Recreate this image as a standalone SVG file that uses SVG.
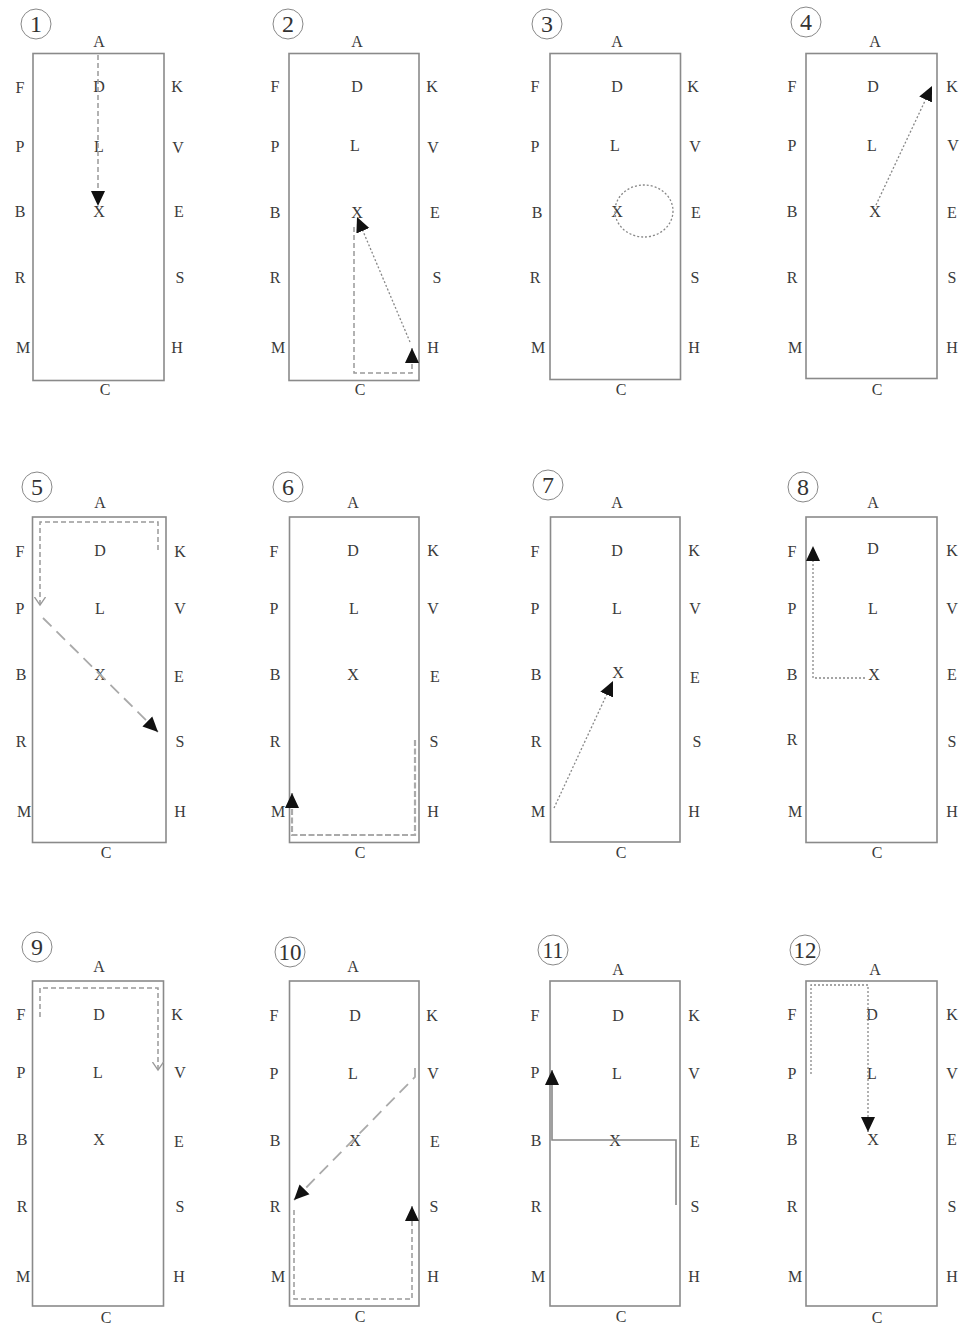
<svg xmlns="http://www.w3.org/2000/svg" width="961" height="1328" viewBox="0 0 961 1328">
<style>
.bg{fill:#fff}
.arena{fill:none;stroke:#8a8a8a;stroke-width:1.6}
.lbl{font-family:"Liberation Serif",serif;font-size:16px;fill:#3a3a3a;text-anchor:middle}
.num{font-family:"Liberation Serif",serif;font-size:24px;fill:#333;text-anchor:middle}
.badge{fill:none;stroke:#888;stroke-width:1}
.dot{fill:none;stroke:#888;stroke-width:1.3;stroke-dasharray:2 2}
.dash{fill:none;stroke:#999;stroke-width:1.5;stroke-dasharray:5 3}
.long{fill:none;stroke:#aaa;stroke-width:1.8;stroke-dasharray:12 7}
.thick{fill:none;stroke:#aaa;stroke-width:2.2;stroke-dasharray:6 2.5}
.solid{fill:none;stroke:#888;stroke-width:1.6}
</style>
<defs>
<marker id="tri" markerUnits="userSpaceOnUse" markerWidth="16" markerHeight="15" refX="15" refY="7" orient="auto" viewBox="0 0 16 14">
<path d="M0,0 L15,7 L0,14 z" fill="#111"/>
</marker>
<marker id="chev" markerUnits="userSpaceOnUse" markerWidth="10" markerHeight="12" refX="8" refY="6" orient="auto" viewBox="0 0 10 12">
<path d="M0,0.5 L8,6 L0,11.5" fill="none" stroke="#999" stroke-width="1.3"/>
</marker>
</defs>
<rect class="bg" x="0" y="0" width="961" height="1328"/>

<g id="panel-1">
<circle class="badge" cx="36" cy="24" r="15"/><text class="num" x="36" y="32">1</text>
<rect class="arena" x="33" y="53.5" width="131" height="327"/>
<text class="lbl" x="99" y="47">A</text><text class="lbl" x="20" y="93">F</text><text class="lbl" x="99" y="92">D</text><text class="lbl" x="177" y="92">K</text>
<text class="lbl" x="20" y="152">P</text><text class="lbl" x="99" y="152">L</text><text class="lbl" x="178" y="153">V</text>
<text class="lbl" x="20" y="217">B</text><text class="lbl" x="99" y="217">X</text><text class="lbl" x="179" y="217">E</text>
<text class="lbl" x="20" y="283">R</text><text class="lbl" x="180" y="283">S</text>
<text class="lbl" x="23" y="353">M</text><text class="lbl" x="177" y="353">H</text><text class="lbl" x="105" y="395">C</text>
</g>

<g id="panel-2">
<circle class="badge" cx="288" cy="24" r="15"/><text class="num" x="288" y="32">2</text>
<rect class="arena" x="289" y="53.5" width="130" height="327"/>
<text class="lbl" x="357" y="47">A</text><text class="lbl" x="275" y="92">F</text><text class="lbl" x="357" y="92">D</text><text class="lbl" x="432" y="92">K</text>
<text class="lbl" x="275" y="152">P</text><text class="lbl" x="355" y="151">L</text><text class="lbl" x="433" y="153">V</text>
<text class="lbl" x="275" y="218">B</text><text class="lbl" x="357" y="218">X</text><text class="lbl" x="435" y="218">E</text>
<text class="lbl" x="275" y="283">R</text><text class="lbl" x="437" y="283">S</text>
<text class="lbl" x="278" y="353">M</text><text class="lbl" x="433" y="353">H</text><text class="lbl" x="360" y="395">C</text>
</g>

<g id="panel-3">
<circle class="badge" cx="547" cy="24" r="15"/><text class="num" x="547" y="32">3</text>
<rect class="arena" x="550" y="53.5" width="130.5" height="326"/>
<text class="lbl" x="617" y="47">A</text><text class="lbl" x="535" y="92">F</text><text class="lbl" x="617" y="92">D</text><text class="lbl" x="693" y="92">K</text>
<text class="lbl" x="535" y="152">P</text><text class="lbl" x="615" y="151">L</text><text class="lbl" x="695" y="152">V</text>
<text class="lbl" x="537" y="218">B</text><text class="lbl" x="617" y="217">X</text><text class="lbl" x="696" y="218">E</text>
<text class="lbl" x="535" y="283">R</text><text class="lbl" x="695" y="283">S</text>
<text class="lbl" x="538" y="353">M</text><text class="lbl" x="694" y="353">H</text><text class="lbl" x="621" y="395">C</text>
</g>

<g id="panel-4">
<circle class="badge" cx="806" cy="22" r="15"/><text class="num" x="806" y="30">4</text>
<rect class="arena" x="806" y="53.5" width="131" height="325"/>
<text class="lbl" x="875" y="47">A</text><text class="lbl" x="792" y="92">F</text><text class="lbl" x="873" y="92">D</text><text class="lbl" x="952" y="92">K</text>
<text class="lbl" x="792" y="151">P</text><text class="lbl" x="872" y="151">L</text><text class="lbl" x="953" y="151">V</text>
<text class="lbl" x="792" y="217">B</text><text class="lbl" x="875" y="217">X</text><text class="lbl" x="952" y="218">E</text>
<text class="lbl" x="792" y="283">R</text><text class="lbl" x="952" y="283">S</text>
<text class="lbl" x="795" y="353">M</text><text class="lbl" x="952" y="353">H</text><text class="lbl" x="877" y="395">C</text>
</g>

<g id="panel-5">
<circle class="badge" cx="37" cy="487" r="15"/><text class="num" x="37" y="495">5</text>
<rect class="arena" x="32.5" y="517" width="133.5" height="325.5"/>
<text class="lbl" x="100" y="508">A</text><text class="lbl" x="20" y="557">F</text><text class="lbl" x="100" y="556">D</text><text class="lbl" x="180" y="557">K</text>
<text class="lbl" x="20" y="614">P</text><text class="lbl" x="100" y="614">L</text><text class="lbl" x="180" y="614">V</text>
<text class="lbl" x="21" y="680">B</text><text class="lbl" x="100" y="680">X</text><text class="lbl" x="179" y="682">E</text>
<text class="lbl" x="21" y="747">R</text><text class="lbl" x="180" y="747">S</text>
<text class="lbl" x="24" y="817">M</text><text class="lbl" x="180" y="817">H</text><text class="lbl" x="106" y="858">C</text>
</g>

<g id="panel-6">
<circle class="badge" cx="288" cy="487" r="15"/><text class="num" x="288" y="495">6</text>
<rect class="arena" x="289.5" y="517" width="129.5" height="325.5"/>
<text class="lbl" x="353" y="508">A</text><text class="lbl" x="274" y="557">F</text><text class="lbl" x="353" y="556">D</text><text class="lbl" x="433" y="556">K</text>
<text class="lbl" x="274" y="614">P</text><text class="lbl" x="354" y="614">L</text><text class="lbl" x="433" y="614">V</text>
<text class="lbl" x="275" y="680">B</text><text class="lbl" x="353" y="680">X</text><text class="lbl" x="435" y="682">E</text>
<text class="lbl" x="275" y="747">R</text><text class="lbl" x="434" y="747">S</text>
<text class="lbl" x="278" y="817">M</text><text class="lbl" x="433" y="817">H</text><text class="lbl" x="360" y="858">C</text>
</g>

<g id="panel-7">
<circle class="badge" cx="548" cy="485" r="15"/><text class="num" x="548" y="493">7</text>
<rect class="arena" x="550.5" y="517" width="129.5" height="325"/>
<text class="lbl" x="617" y="508">A</text><text class="lbl" x="535" y="557">F</text><text class="lbl" x="617" y="556">D</text><text class="lbl" x="694" y="556">K</text>
<text class="lbl" x="535" y="614">P</text><text class="lbl" x="617" y="614">L</text><text class="lbl" x="695" y="614">V</text>
<text class="lbl" x="536" y="680">B</text><text class="lbl" x="618" y="678">X</text><text class="lbl" x="695" y="683">E</text>
<text class="lbl" x="536" y="747">R</text><text class="lbl" x="697" y="747">S</text>
<text class="lbl" x="538" y="817">M</text><text class="lbl" x="694" y="817">H</text><text class="lbl" x="621" y="858">C</text>
</g>

<g id="panel-8">
<circle class="badge" cx="803" cy="487" r="15"/><text class="num" x="803" y="495">8</text>
<rect class="arena" x="806" y="517" width="131" height="325.5"/>
<text class="lbl" x="873" y="508">A</text><text class="lbl" x="792" y="557">F</text><text class="lbl" x="873" y="554">D</text><text class="lbl" x="952" y="556">K</text>
<text class="lbl" x="792" y="614">P</text><text class="lbl" x="873" y="614">L</text><text class="lbl" x="952" y="614">V</text>
<text class="lbl" x="792" y="680">B</text><text class="lbl" x="874" y="680">X</text><text class="lbl" x="952" y="680">E</text>
<text class="lbl" x="792" y="745">R</text><text class="lbl" x="952" y="747">S</text>
<text class="lbl" x="795" y="817">M</text><text class="lbl" x="952" y="817">H</text><text class="lbl" x="877" y="858">C</text>
</g>

<g id="panel-9">
<circle class="badge" cx="37" cy="947" r="15"/><text class="num" x="37" y="955">9</text>
<rect class="arena" x="32.5" y="981" width="131" height="325"/>
<text class="lbl" x="99" y="972">A</text><text class="lbl" x="21" y="1020">F</text><text class="lbl" x="99" y="1020">D</text><text class="lbl" x="177" y="1020">K</text>
<text class="lbl" x="21" y="1078">P</text><text class="lbl" x="98" y="1078">L</text><text class="lbl" x="180" y="1078">V</text>
<text class="lbl" x="22" y="1145">B</text><text class="lbl" x="99" y="1145">X</text><text class="lbl" x="179" y="1147">E</text>
<text class="lbl" x="22" y="1212">R</text><text class="lbl" x="180" y="1212">S</text>
<text class="lbl" x="23" y="1282">M</text><text class="lbl" x="179" y="1282">H</text><text class="lbl" x="106" y="1323">C</text>
</g>

<g id="panel-10">
<circle class="badge" cx="290" cy="952" r="15"/><text class="num" x="290" y="960" textLength="23" lengthAdjust="spacingAndGlyphs">10</text>
<rect class="arena" x="289.5" y="981" width="129.5" height="325"/>
<text class="lbl" x="353" y="972">A</text><text class="lbl" x="274" y="1021">F</text><text class="lbl" x="355" y="1021">D</text><text class="lbl" x="432" y="1021">K</text>
<text class="lbl" x="274" y="1079">P</text><text class="lbl" x="353" y="1079">L</text><text class="lbl" x="433" y="1079">V</text>
<text class="lbl" x="275" y="1146">B</text><text class="lbl" x="355" y="1146">X</text><text class="lbl" x="435" y="1147">E</text>
<text class="lbl" x="275" y="1212">R</text><text class="lbl" x="434" y="1212">S</text>
<text class="lbl" x="278" y="1282">M</text><text class="lbl" x="433" y="1282">H</text><text class="lbl" x="360" y="1322">C</text>
</g>

<g id="panel-11">
<circle class="badge" cx="553" cy="950" r="15"/><text class="num" x="553" y="958" textLength="21" lengthAdjust="spacingAndGlyphs">11</text>
<rect class="arena" x="550" y="981" width="130" height="325"/>
<text class="lbl" x="618" y="975">A</text><text class="lbl" x="535" y="1021">F</text><text class="lbl" x="618" y="1021">D</text><text class="lbl" x="694" y="1021">K</text>
<text class="lbl" x="535" y="1078">P</text><text class="lbl" x="617" y="1079">L</text><text class="lbl" x="694" y="1079">V</text>
<text class="lbl" x="536" y="1146">B</text><text class="lbl" x="615" y="1146">X</text><text class="lbl" x="695" y="1147">E</text>
<text class="lbl" x="536" y="1212">R</text><text class="lbl" x="695" y="1212">S</text>
<text class="lbl" x="538" y="1282">M</text><text class="lbl" x="694" y="1282">H</text><text class="lbl" x="621" y="1322">C</text>
</g>

<g id="panel-12">
<circle class="badge" cx="805" cy="950" r="15"/><text class="num" x="805" y="958" textLength="23" lengthAdjust="spacingAndGlyphs">12</text>
<rect class="arena" x="806" y="981" width="131" height="325"/>
<text class="lbl" x="875" y="975">A</text><text class="lbl" x="792" y="1020">F</text><text class="lbl" x="872" y="1020">D</text><text class="lbl" x="952" y="1020">K</text>
<text class="lbl" x="792" y="1079">P</text><text class="lbl" x="872" y="1079">L</text><text class="lbl" x="952" y="1079">V</text>
<text class="lbl" x="792" y="1145">B</text><text class="lbl" x="873" y="1145">X</text><text class="lbl" x="952" y="1145">E</text>
<text class="lbl" x="792" y="1212">R</text><text class="lbl" x="952" y="1212">S</text>
<text class="lbl" x="795" y="1282">M</text><text class="lbl" x="952" y="1282">H</text><text class="lbl" x="877" y="1323">C</text>
</g>

<g id="connectors">
<path class="dash" d="M98,55 V206" marker-end="url(#tri)"/>
<path class="dash" d="M354,227 V373 H412 V348" marker-end="url(#tri)"/>
<path class="dot" d="M410,342 L357,217" marker-end="url(#tri)"/>
<ellipse class="dot" cx="644" cy="211" rx="29" ry="26"/>
<path class="dot" d="M876,205 L932,86" marker-end="url(#tri)"/>
<path class="dash" d="M158,550 V522 H40 V605" marker-end="url(#chev)"/>
<path class="long" d="M43,618 L158,732" marker-end="url(#tri)"/>
<path class="thick" d="M415,740 V835 H292 V793" marker-end="url(#tri)"/>
<path class="dot" d="M554,808 L613,681" marker-end="url(#tri)"/>
<path class="dot" d="M865,678 H813 V546" marker-end="url(#tri)"/>
<path class="dash" d="M40,1017 V988 H158 V1070" marker-end="url(#chev)"/>
<path class="long" d="M415,1068 V1077 L294,1200" marker-end="url(#tri)"/>
<path class="dash" d="M294,1210 V1299 H412 V1206" marker-end="url(#tri)"/>
<path class="solid" d="M676,1205 V1140 H552 V1070" marker-end="url(#tri)"/>
<path class="dot" d="M811,1074 V985 H868 V1132" marker-end="url(#tri)"/>
</g>
</svg>
